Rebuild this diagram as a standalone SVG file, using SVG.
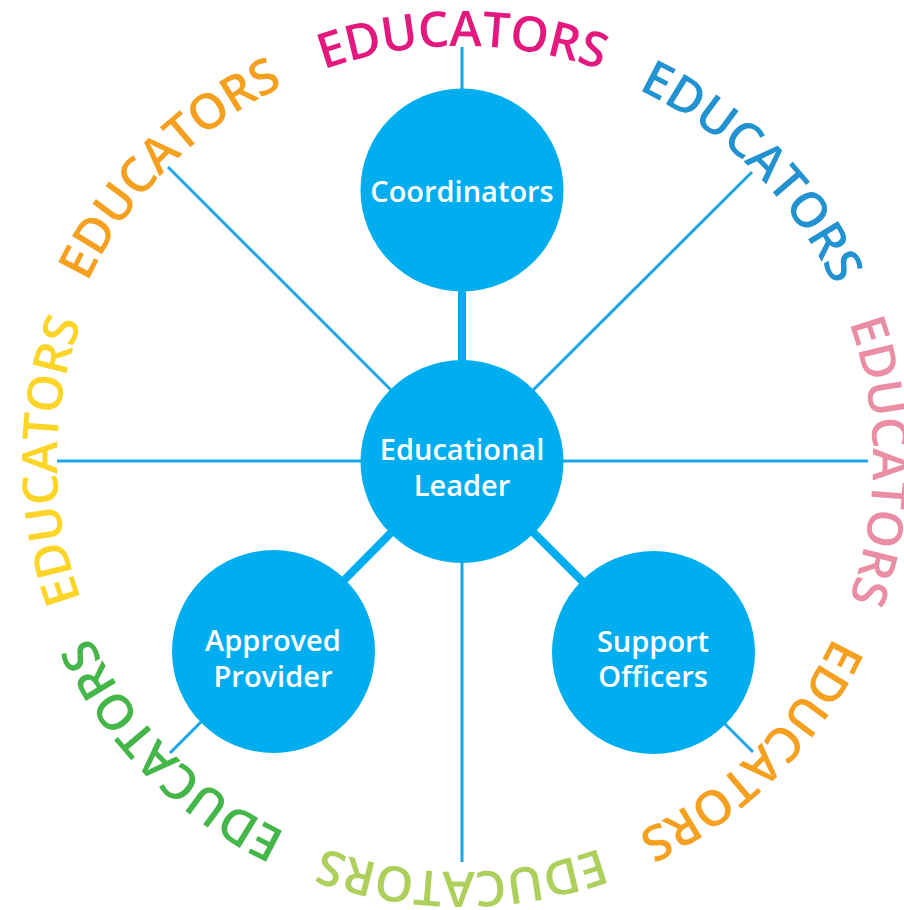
<svg xmlns="http://www.w3.org/2000/svg" xmlns:xlink="http://www.w3.org/1999/xlink" width="904" height="910" viewBox="0 0 904 910">
<style>
.thin{stroke:#1ba6e4;stroke-width:3;fill:none}
.thick{stroke:#00aeef;stroke-width:8;fill:none}
.node{fill:#00aeef}
.lbl{font-family:"Open Sans","Noto Sans","Liberation Sans",sans-serif;font-weight:600;font-size:29px;fill:#ffffff;text-anchor:middle}
.edu{font-family:"Open Sans","Noto Sans","Liberation Sans",sans-serif;font-weight:600;font-size:49px;letter-spacing:-0.6px;text-anchor:middle}
</style>
<defs>
<path id="c405" d="M462 866 A405 405 0 0 1 462 56 A405 405 0 0 1 462 866"/>
<path id="c411" d="M462 872 A411 411 0 0 1 462 50 A411 411 0 0 1 462 872"/>
<path id="c415" d="M462 876 A415 415 0 0 1 462 46 A415 415 0 0 1 462 876"/>
</defs>
<g id="connectors">
<line class="thin" x1="462" y1="461" x2="462" y2="47"/>
<line class="thin" x1="462" y1="461" x2="462" y2="862"/>
<line class="thin" x1="462" y1="461" x2="57" y2="461"/>
<line class="thin" x1="462" y1="461" x2="868" y2="461"/>
<line class="thin" x1="462" y1="461" x2="168" y2="167"/>
<line class="thin" x1="462" y1="461" x2="752" y2="172"/>
<line class="thin" x1="462" y1="461" x2="170" y2="753"/>
<line class="thin" x1="462" y1="461" x2="753" y2="752"/>
<line class="thick" x1="462" y1="461" x2="462" y2="190"/>
<line class="thick" x1="462" y1="461" x2="273" y2="652"/>
<line class="thick" x1="462" y1="461" x2="653" y2="652"/>
</g>
<g id="coordinators">
<circle class="node" cx="462" cy="190" r="101.5"/>
<text class="lbl" x="462" y="202">Coordinators</text>
</g>
<g id="educational-leader">
<circle class="node" cx="462" cy="461.5" r="101.5"/>
<text class="lbl" x="462" y="460">Educational</text>
<text class="lbl" x="462" y="496">Leader</text>
</g>
<g id="approved-provider">
<circle class="node" cx="273.5" cy="651.5" r="101.5"/>
<text class="lbl" x="273" y="651">Approved</text>
<text class="lbl" x="273" y="687">Provider</text>
</g>
<g id="support-officers">
<circle class="node" cx="653.5" cy="652.5" r="101.5"/>
<text class="lbl" x="653" y="652">Support</text>
<text class="lbl" x="653" y="687">Officers</text>
</g>
<g id="educators-ring">
<text class="edu" fill="#e3197f"><textPath xlink:href="#c415" href="#c415" startOffset="50%">EDUCATORS</textPath></text>
<text class="edu" fill="#2292d0" transform="rotate(45 462 461)"><textPath xlink:href="#c411" href="#c411" startOffset="50%">EDUCATORS</textPath></text>
<text class="edu" fill="#e98ea5" transform="rotate(90 462 461)"><textPath xlink:href="#c411" href="#c411" startOffset="50%">EDUCATORS</textPath></text>
<text class="edu" fill="#f5a11f" transform="rotate(135 462 461)"><textPath xlink:href="#c411" href="#c411" startOffset="50%">EDUCATORS</textPath></text>
<text class="edu" fill="#acd05b" transform="rotate(180 462 461)"><textPath xlink:href="#c411" href="#c411" startOffset="50%">EDUCATORS</textPath></text>
<text class="edu" fill="#45b649" transform="rotate(225 462 461)"><textPath xlink:href="#c411" href="#c411" startOffset="50%">EDUCATORS</textPath></text>
<text class="edu" fill="#fdd526" transform="rotate(270 462 461)"><textPath xlink:href="#c405" href="#c405" startOffset="50%">EDUCATORS</textPath></text>
<text class="edu" fill="#f5a11f" transform="rotate(315 462 461)"><textPath xlink:href="#c415" href="#c415" startOffset="50%">EDUCATORS</textPath></text>
</g>
</svg>
